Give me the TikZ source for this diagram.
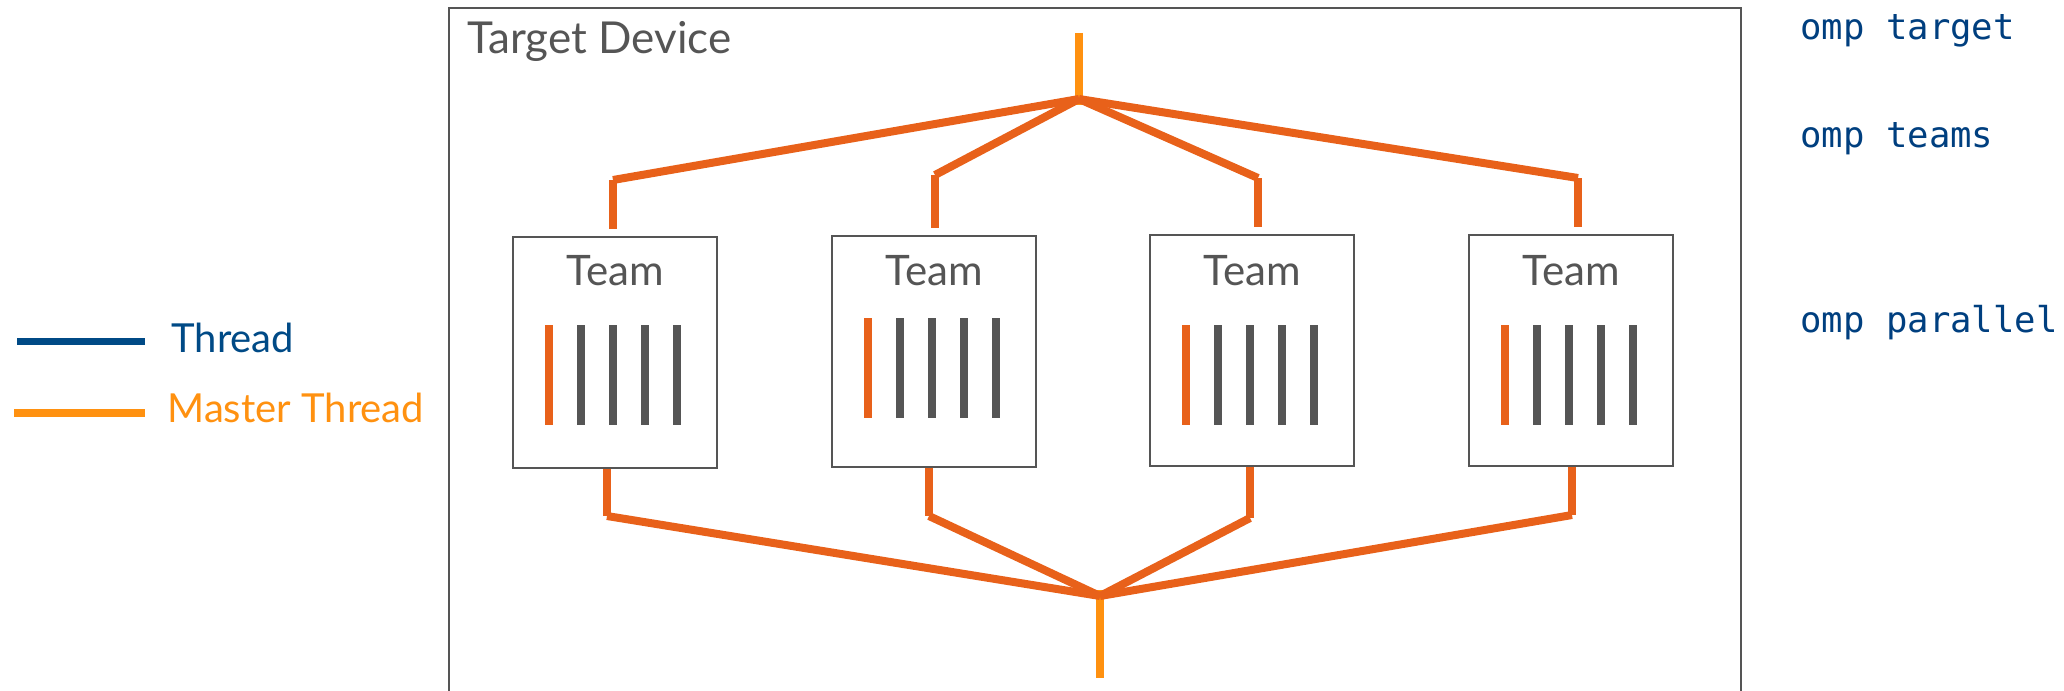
\documentclass[tikz,border=0pt]{standalone}
\usepackage{fontspec}
\setmainfont{Lato}
\setmonofont{DejaVu Sans Mono}
\usetikzlibrary{positioning}
\definecolor{devgray}{HTML}{555555}
\definecolor{forkorange}{HTML}{E8611A}
\definecolor{masterorange}{HTML}{FF9110}
\definecolor{threadblue}{HTML}{004A86}
\definecolor{ompblue}{HTML}{003F7F}
\tikzset{
  team/.style   ={rectangle, draw=devgray, line width=1pt, inner sep=0pt,
                  minimum width=102pt, minimum height=115.5pt},
  teamname/.style={anchor=base, inner sep=0pt, text=devgray,
                  font=\fontsize{21}{24}\selectfont},
  legend/.style ={anchor=base west, inner sep=0pt,
                  font=\fontsize{20}{24}\selectfont},
  pragma/.style ={anchor=base west, inner sep=0pt, text=ompblue,
                  font=\ttfamily\fontsize{17.8}{20}\selectfont},
  fork/.style   ={draw=forkorange, line width=4pt},
  master/.style ={draw=masterorange, line width=3.6pt},
  bar/.style    ={line width=4pt}
}

\begin{document}
\begin{tikzpicture}[x=0.5pt, y=-0.5pt]
    \useasboundingbox (0,0) rectangle (2064,690);

    % device frame, open at the bottom
    \draw[devgray, line width=1pt] (449,700) |- (1741,8) -- (1741,700);
    \node[anchor=base west, inner sep=0pt, text=devgray,
          font=\fontsize{22}{26}\selectfont] (device) at (467,54) {Target Device};

    % legend
    \coordinate (thrA) at (17,341);  \coordinate (thrB) at (145,341);
    \coordinate (mstA) at (14,413);  \coordinate (mstB) at (145,413);
    \draw[threadblue, line width=3.5pt] (thrA) -- (thrB);
    \draw[master] (mstA) -- (mstB);
    \node[legend, text=threadblue] (thrtxt) at (171,352) {Thread};
    \node[legend, text=masterorange] (msttxt) at (167,422) {Master Thread};

    % pragmas
    \node[pragma] (omptarget) at (1800,40) {omp target};
    \node[pragma] (ompteams) at (1800,148) {omp teams};
    \node[pragma] (omppar) at (1800,332) {omp parallel};

    % teams: index / centre x / centre y / shift of the thread bars
    \foreach \i/\cx/\cy/\dy in {1/615/352/0, 2/934/351/-7, 3/1252/350/0, 4/1571/350/0} {
      \node[team] (team\i) at (\cx,\cy) {};
      \node[teamname] (name\i) at (\cx,285) {Team};
      \foreach \k/\col in {-2/forkorange, -1/devgray, 0/devgray, 1/devgray, 2/devgray}
        \draw[bar, \col] (\cx+\k*32-2,325+\dy) -- (\cx+\k*32-2,425+\dy);
    }

    % fork from the initial thread
    \coordinate (entry) at (1079,33);
    \coordinate (split) at (1079,99);
    \coordinate (b1) at (613,180);
    \coordinate (b2) at (935,175);
    \coordinate (b3) at (1258,178);
    \coordinate (b4) at (1578,178);
    \draw[master] (entry) -- ([yshift=-3pt]split);
    \foreach \i in {1,...,4} {
      \draw[fork] (split) -- (b\i);
      \draw[fork] (b\i) -- ([yshift=3.5pt]team\i.north -| b\i);
    }

    % join back to one thread
    \coordinate (j1) at (607,516);
    \coordinate (j2) at (929,516);
    \coordinate (j3) at (1250,518);
    \coordinate (j4) at (1572,515);
    \coordinate (merge) at (1100,596);
    \coordinate (exit) at (1100,678);
    \draw[master] ([yshift=3pt]merge) -- (exit);
    \foreach \i in {1,...,4} {
      \draw[fork] (team\i.south -| j\i) -- (j\i);
      \draw[fork] (j\i) -- (merge);
    }
  \end{tikzpicture}
\end{document}
